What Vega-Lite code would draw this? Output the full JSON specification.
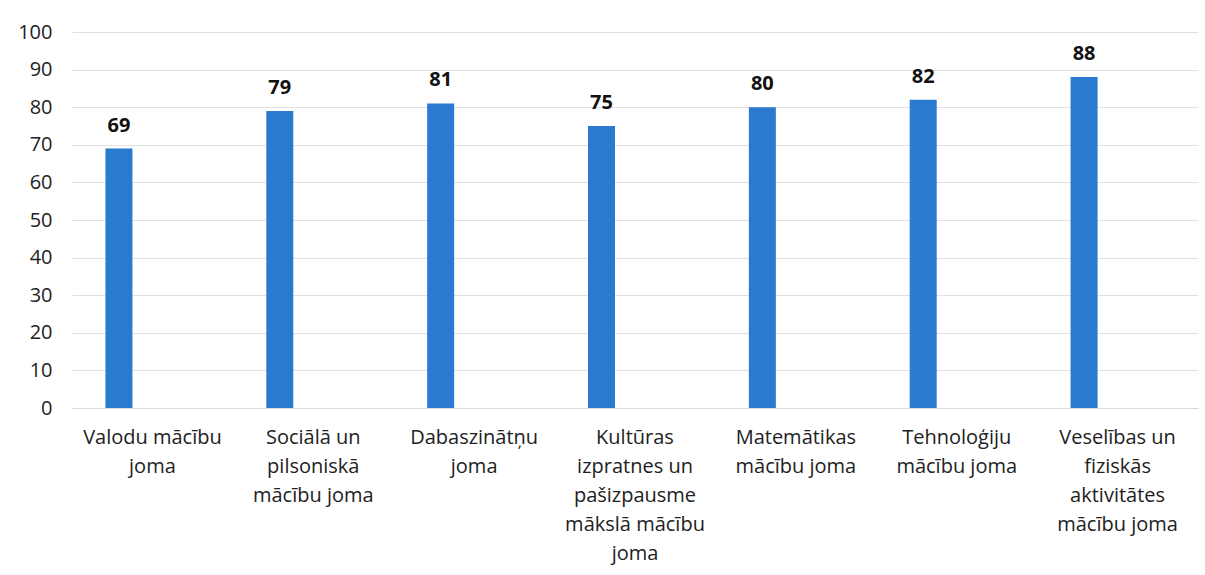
{
  "$schema": "https://vega.github.io/schema/vega-lite/v6.json",
  "width": 1126,
  "height": 376,
  "autosize": {"type": "none"},
  "padding": {"left": 72, "top": 32, "right": 7, "bottom": 167},
  "background": "white",
  "config": {"view": {"stroke": null}, "font": "Open Sans"},
  "data": {
    "values": [
      {"joma": "Valodu mācību joma", "series": "a", "value": 69},
      {"joma": "Sociālā un pilsoniskā mācību joma", "series": "a", "value": 79},
      {"joma": "Dabaszinātņu joma", "series": "a", "value": 81},
      {"joma": "Kultūras izpratnes un pašizpausme mākslā mācību joma", "series": "a", "value": 75},
      {"joma": "Matemātikas mācību joma", "series": "a", "value": 80},
      {"joma": "Tehnoloģiju mācību joma", "series": "a", "value": 82},
      {"joma": "Veselības un fiziskās aktivitātes mācību joma", "series": "a", "value": 88}
    ]
  },
  "encoding": {
    "x": {
      "field": "joma",
      "type": "nominal",
      "sort": null,
      "scale": {"paddingInner": 0, "paddingOuter": 0},
      "axis": {
        "title": null,
        "labelAngle": 0,
        "labelFontSize": 20,
        "labelColor": "#222222",
        "labelFont": "Open Sans",
        "labelLineHeight": 29,
        "labelPadding": 19,
        "labelBaseline": "top",
        "ticks": false,
        "domain": true,
        "domainColor": "#d9d9d9",
        "labelLimit": 0,
        "labelExpr": "datum.label == 'Valodu mācību joma' ? ['Valodu mācību','joma'] : datum.label == 'Sociālā un pilsoniskā mācību joma' ? ['Sociālā un','pilsoniskā','mācību joma'] : datum.label == 'Dabaszinātņu joma' ? ['Dabaszinātņu','joma'] : datum.label == 'Kultūras izpratnes un pašizpausme mākslā mācību joma' ? ['Kultūras','izpratnes un','pašizpausme','mākslā mācību','joma'] : datum.label == 'Matemātikas mācību joma' ? ['Matemātikas','mācību joma'] : datum.label == 'Tehnoloģiju mācību joma' ? ['Tehnoloģiju','mācību joma'] : ['Veselības un','fiziskās','aktivitātes','mācību joma']"
      }
    },
    "xOffset": {
      "field": "series",
      "type": "nominal",
      "scale": {"domain": ["a", "b"], "paddingInner": 0.597, "paddingOuter": 0.499}
    },
    "y": {
      "field": "value",
      "type": "quantitative",
      "scale": {"domain": [0, 100], "nice": false},
      "axis": {
        "title": null,
        "values": [0, 10, 20, 30, 40, 50, 60, 70, 80, 90, 100],
        "labelFontSize": 20,
        "labelColor": "#222222",
        "labelPadding": 20,
        "ticks": false,
        "domain": false,
        "gridColor": "#e0e0e0",
        "gridWidth": 1
      }
    }
  },
  "layer": [
    {"mark": {"type": "bar", "color": "#2a7bd0"}},
    {
      "mark": {"type": "text", "fontSize": 20, "fontWeight": "bold", "font": "Open Sans", "color": "#111111", "baseline": "alphabetic", "dy": -17},
      "encoding": {"text": {"field": "value", "type": "quantitative"}}
    }
  ]
}
